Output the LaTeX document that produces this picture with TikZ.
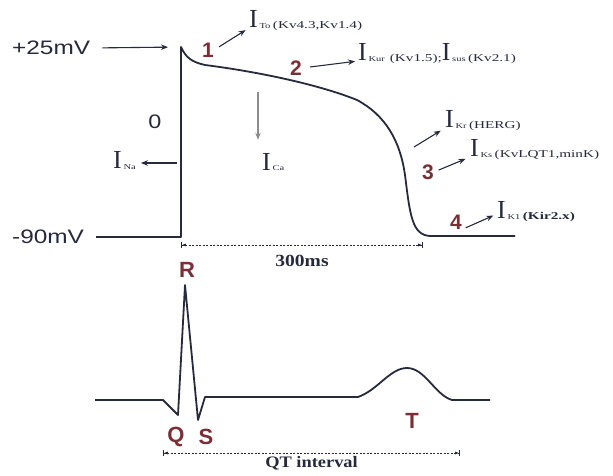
\documentclass[tikz,border=0pt]{standalone}
\usepackage{fontspec}
\setmainfont{Liberation Serif}
\newfontfamily\arialfont{Liberation Sans}
\usetikzlibrary{arrows.meta}
\definecolor{apline}{HTML}{262A3C}
\definecolor{numbrown}{HTML}{7A2E35}
\definecolor{callgray}{HTML}{8C8C8C}
% current label: big I with a small subscript, channel names next to it
\newcommand{\Icur}[1]{{\fontsize{26}{26}\selectfont I}\,\raisebox{-1pt}{\scalebox{1.4}[1]{\fontsize{7.5}{7.5}\selectfont #1}}}
\newcommand{\Ktxt}[1]{\raisebox{-1pt}{\scalebox{1.45}[1]{\fontsize{10.5}{10.5}\selectfont #1}}}
\newcommand{\widetxt}[2]{\scalebox{#1}[1]{#2}}

\begin{document}
\begin{tikzpicture}[x=1pt,y=-1pt,>={Stealth[length=7pt,width=5.5pt]},
  mv/.style={font=\arialfont\fontsize{19.5}{19.5}\selectfont,text=apline,inner sep=0pt},
  phase/.style={font=\arialfont\bfseries\fontsize{21}{21}\selectfont,text=numbrown,inner sep=0pt},
  wave/.style={font=\arialfont\bfseries\fontsize{22}{22}\selectfont,text=numbrown,inner sep=0pt},
  curlbl/.style={anchor=base west,inner sep=0pt,text=apline},
  trace/.style={line width=1.8pt,draw=apline,line join=round},
  call/.style={->,line width=1.1pt,draw=apline},
  span/.style={{Bar[width=6pt]Latex[length=4pt]}-{Latex[length=4pt]Bar[width=6pt]},
    dash pattern=on 2pt off 1.5pt,line width=.8pt,draw=apline},
  spanlbl/.style={font=\bfseries\fontsize{17}{17}\selectfont,text=apline,inner sep=0pt}]
\useasboundingbox (0,0) rectangle (613,476);
% action potential
\node[mv,anchor=west] (vtop) at (12,48) {\widetxt{1.25}{+25mV}};
\node[mv,anchor=west] (vbot) at (12,237) {\widetxt{1.25}{-90mV}};
\coordinate (peak) at (181,47);
\coordinate (rest) at (181,237);
\draw[call,shorten <=12pt,shorten >=13pt] (vtop.east) -- (peak);
\draw[trace] ([xshift=12pt]vbot.east) -- (rest) -- (peak)
  .. controls (186,58) and (192,62) .. (205,65)
  .. controls (260,72) and (320,85) .. (357,100)
  .. controls (385,115) and (400,140) .. (405,175)
  .. controls (410,215) and (412,235) .. (430,236) -- (515,236);
% phases and currents
\node[mv] (p0) at (155,122) {\widetxt{1.2}{0}};
\node[curlbl] (ina) at (113,168) {\Icur{Na}};
\coordinate (nafoot) at (177,163);
\draw[call,shorten >=5pt] (nafoot) -- (ina.east |- nafoot);
\node[phase] (p1) at (208,50) {1};
\node[curlbl] (ito) at (249,28) {\Icur{To}\ \Ktxt{(Kv4.3,Kv1.4)}};
\draw[call,shorten <=6pt,shorten >=4pt] (p1.east) -- (ito.base west);
\node[phase] (p2) at (296,68) {2};
\node[curlbl] (ikur) at (358,61) {\Icur{Kur}\ \ \Ktxt{(Kv1.5);}\Icur{sus}\ \Ktxt{(Kv2.1)}};
\draw[call,shorten <=8pt,shorten >=3pt] (p2.east) -- (ikur.base west);
\coordinate (cafoot) at (258,92);
\node[curlbl] (ica) at (262,170) {\Icur{Ca}};
\draw[call,draw=callgray,line width=1.4pt,shorten >=13pt] (cafoot) -- (cafoot |- ica.north);
\coordinate (krfoot) at (414,147);
\node[curlbl] (ikr) at (445,128) {\Icur{Kr}\ \Ktxt{(HERG)}};
\draw[call,shorten >=5pt] (krfoot) -- (ikr.base west);
\node[phase] (p3) at (428,172) {3};
\node[curlbl] (iks) at (470,157) {\Icur{Ks}\ \Ktxt{(KvLQT1,minK)}};
\draw[call,shorten <=5pt,shorten >=5pt] (p3.east) -- (iks.base west);
\node[phase] (p4) at (456,222) {4};
\node[curlbl] (ik1) at (497,218) {\Icur{K1}\ \Ktxt{\bfseries (Kir2.x)}};
\draw[call,shorten <=4pt,shorten >=4pt] (p4.south east) -- ([yshift=4pt]ik1.base west);
\coordinate (apstart) at (181,245);
\coordinate (apend) at (423,245);
\draw[span] (apstart) -- (apend) node[spanlbl,pos=.5,below=10pt] {\widetxt{1.15}{300ms}};
% ECG
\coordinate (q) at (178,415);
\coordinate (r) at (185,285);
\coordinate (s) at (198,420);
\coordinate (t) at (407,368);
\draw[trace] (95,400) -- (163,400) -- (q) -- (r) -- (s) -- (205,397) -- (358,397)
  .. controls (378,390) and (390,368) .. (t)
  .. controls (425,368) and (435,395) .. (452,400) -- (490,400);
\node[wave] (lr) at (187,270) {R};
\node[wave] (lq) at (176,437) {Q};
\node[wave] (ls) at (206,437) {S};
\node[wave] (lt) at (412,421) {T};
\coordinate (qtstart) at (163,453);
\coordinate (qtend) at (460,453);
\draw[span] (qtstart) -- (qtend) node[pos=.5,below=3pt,inner sep=0pt,text=apline,
  font=\bfseries\fontsize{16}{16}\selectfont] {\widetxt{1.15}{QT interval}};
\end{tikzpicture}
\end{document}
